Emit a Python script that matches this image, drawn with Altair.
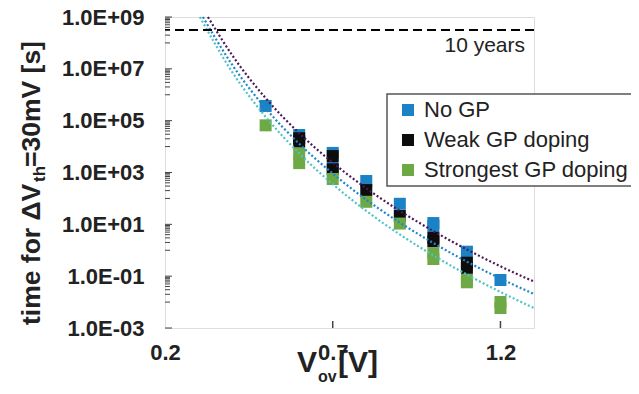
import altair as alt
import pandas as pd

# ---------------- data ----------------
series_names = ["No GP", "Weak GP doping", "Strongest GP doping"]
series_colors = ["#1B82C5", "#0D0D0D", "#6DAA45"]

nogp_x = [0.5, 0.6, 0.7, 0.7, 0.8, 0.9, 1.0, 1.0, 1.1, 1.2]
nogp_y = [3.7e5, 2.8e4, 5.7e3, 1.5e3, 4.7e2, 62, 11.2, 8.6, 0.88, 0.071]
weak_x = [0.6, 0.6, 0.7, 0.7, 0.8, 0.9, 1.0, 1.0, 1.1, 1.1]
weak_y = [2.1e4, 1.55e4, 4.3e3, 1.33e3, 2.1e2, 21, 3.0, 2.2, 0.33, 0.21]
strong_x = [0.5, 0.6, 0.6, 0.7, 0.8, 0.9, 1.0, 1.0, 1.1, 1.1, 1.2, 1.2]
strong_y = [6.6e4, 5.4e3, 2.3e3, 5.6e2, 74, 10.7, 0.76, 0.46, 0.071, 0.058, 0.0101, 0.0059]

# dotted fit curves
fit_names = ["fit No GP", "fit Weak", "fit Strongest"]
fit_colors = ["#4A1A57", "#1F86C8", "#4FC3C8"]
fit1_x = [0.328, 0.4, 0.5, 0.6, 0.7, 0.8, 0.9, 1.0, 1.1, 1.2, 1.3]
fit1_y = [1e9, 3.4e7, 7.4e5, 3.3e4, 2.4e3, 245, 33, 5.5, 1.07, 0.24, 0.062]
fit2_x = [0.313, 0.4, 0.5, 0.6, 0.7, 0.8, 0.9, 1.0, 1.1, 1.2, 1.3]
fit2_y = [1e9, 1.45e7, 3.0e5, 1.29e4, 912, 89, 11.7, 1.9, 0.363, 0.081, 0.0204]
fit3_x = [0.304, 0.4, 0.5, 0.6, 0.7, 0.8, 0.9, 1.0, 1.1, 1.2, 1.3]
fit3_y = [1e9, 7.6e6, 1.41e5, 5.5e3, 355, 33, 4.07, 0.63, 0.115, 0.0245, 0.0059]

ten_years = [3.15e8]

x_ticks = [0.2, 0.7, 1.2]
y_major = [1e-3, 1e-1, 1e1, 1e3, 1e5, 1e7, 1e9]
y_minor = [m * 10.0 ** e for e in (-2, 0, 2, 4, 6, 8) for m in range(1, 10)]

# ---------------- tables ----------------
pts = pd.DataFrame({
    "x": nogp_x + weak_x + strong_x,
    "y": nogp_y + weak_y + strong_y,
    "series": [series_names[0]] * len(nogp_x) + [series_names[1]] * len(weak_x)
              + [series_names[2]] * len(strong_x),
})
fits = pd.DataFrame({
    "x": fit1_x + fit2_x + fit3_x,
    "y": fit1_y + fit2_y + fit3_y,
    "fit": [fit_names[0]] * len(fit1_x) + [fit_names[1]] * len(fit2_x) + [fit_names[2]] * len(fit3_x),
})
one = pd.DataFrame({"d": [0]})

W, H = 369, 311
FONT = "Liberation Sans"
INK = "#222222"

xscale = alt.Scale(domain=[0.2, 1.3], nice=False, zero=False)
yscale = alt.Scale(type="log", domain=[1e-3, 1e9], nice=False)
xaxis = alt.Axis(values=x_ticks, format=".1f", title=None, ticks=False, domain=False, grid=False,
                 labelFontSize=22, labelFont=FONT, labelFontWeight="bold", labelColor=INK,
                 labelPadding=14, labelFlush=False, labelOverlap=False)
yaxis = alt.Axis(values=y_major, title=None, ticks=False, domain=False, grid=False,
                 labelExpr="'1.0E' + (datum.value < 1 ? '-' : '+') + '0' + abs(round(log(datum.value)/LN10))",
                 labelFontSize=22, labelFont=FONT, labelFontWeight="bold", labelColor=INK,
                 labelPadding=21, labelFlush=False, labelOverlap=False)

X = alt.X("x:Q", scale=xscale, axis=xaxis)
Y = alt.Y("y:Q", scale=yscale, axis=yaxis)

markers = alt.Chart(pts).mark_square(size=144, opacity=1).encode(
    x=X, y=Y,
    color=alt.Color("series:N", scale=alt.Scale(domain=series_names, range=series_colors),
                    legend=alt.Legend(title=None, orient="none", legendX=232, legendY=82,
                                      symbolType="square", symbolSize=144, symbolOpacity=1,
                                      symbolStrokeWidth=0, labelFontSize=22, labelFont=FONT,
                                      labelColor=INK, rowPadding=8, padding=0, labelOffset=5,
                                      labelLimit=400)),
)

lines = []
for name, col in zip(fit_names, fit_colors):
    lines.append(
        alt.Chart(fits).transform_filter(alt.datum.fit == name)
        .mark_line(color=col, strokeWidth=2.2, strokeDash=[2, 2.2], interpolate="monotone")
        .encode(x=X, y=Y)
    )

dashed = alt.Chart(pd.DataFrame({"y": ten_years})).mark_rule(
    color="black", strokeWidth=2, strokeDash=[9, 5]).encode(y=Y)

ymaj = alt.Chart(pd.DataFrame({"y": y_major})).mark_rule(color="#444", strokeWidth=1).encode(
    y=Y, x=alt.value(0), x2=alt.value(7))
ymin = alt.Chart(pd.DataFrame({"y": y_minor})).mark_rule(color="#444", strokeWidth=1).encode(
    y=Y, x=alt.value(0), x2=alt.value(5))
xt = alt.Chart(pd.DataFrame({"x": x_ticks[1:]})).mark_rule(color="#444", strokeWidth=1.5).encode(
    x=X, y=alt.value(H), y2=alt.value(H - 7))


def txt(s, x, y, size, weight="bold", angle=0, align="left", baseline="alphabetic"):
    return alt.Chart(one).mark_text(text=s, font=FONT, fontSize=size, fontWeight=weight,
                                    angle=angle, align=align, baseline=baseline, color=INK).encode(
        x=alt.value(x), y=alt.value(y))


texts = [
    txt("10 years", 360, 35, 21, weight="normal", align="right"),
    # y title (rotated)
    txt("time for ΔV", -125, 308, 26.5, angle=270),
    txt("th", -120, 165, 17, angle=270),
    txt("=30mV [s]", -125, 150, 26.5, angle=270),
    # x title
    txt("V", 132, 355, 30),
    txt("ov", 153, 365, 16),
    txt("[V]", 173, 355, 30),
]

legend_box = alt.Chart(one).mark_rect(fill="white", stroke="#555555", strokeWidth=1.5).encode(
    x=alt.value(222), x2=alt.value(467), y=alt.value(77), y2=alt.value(169))

chart = alt.layer(markers, *lines, dashed, ymaj, ymin, xt, *texts, legend_box).properties(
    width=W, height=H,
    padding={"left": 157, "top": 9, "right": 97, "bottom": 58},
    autosize=alt.AutoSizeParams(type="none"),
).configure_view(stroke="#1a1a1a", strokeWidth=2).configure(background="white")

chart.save("out.html", embed_options={"renderer": "svg", "actions": False})
